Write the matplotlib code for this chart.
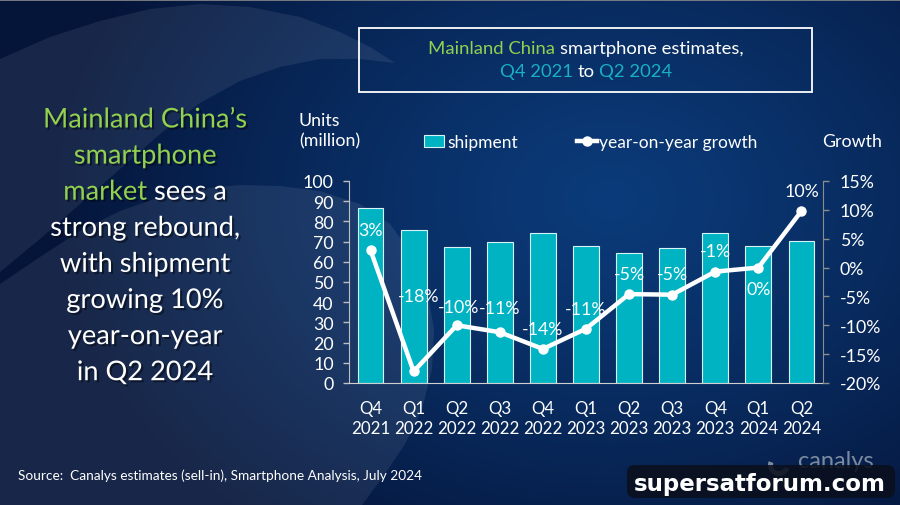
import numpy as np
import matplotlib
matplotlib.use("Agg")
import matplotlib.pyplot as plt
import matplotlib.patheffects as pe
from matplotlib.patches import Rectangle, Polygon, FancyBboxPatch, Wedge

# ---- data -----------------------------------------------------------------
quarters = ["Q4\n2021", "Q1\n2022", "Q2\n2022", "Q3\n2022", "Q4\n2022", "Q1\n2023",
            "Q2\n2023", "Q3\n2023", "Q4\n2023", "Q1\n2024", "Q2\n2024"]
shipment = [86.5, 75.6, 67.2, 69.9, 74.5, 67.7, 64.3, 66.8, 74.1, 67.7, 70.4]
growth = [3.0, -18.0, -10.0, -11.2, -14.1, -10.6, -4.6, -4.7, -0.7, 0.0, 9.8]
units_ticks = [0, 10, 20, 30, 40, 50, 60, 70, 80, 90, 100]
growth_ticks = [-20, -15, -10, -5, 0, 5, 10, 15]

# label nudges (pixels, up is positive)
label_dx = [0, 5, 2, 0, 0, 0, 0, 0, 0, 0, 0]
label_dy = [20, 75, 18, 24, 20, 20, 20, 21, 21, -21, 20]

FONT = "Lato"
GREEN = "#92D050"
TEAL = "#00B3C3"
TEAL_TXT = "#19B0C2"
W, H = 900, 506

plt.rcParams["font.family"] = [FONT, "DejaVu Sans"]

fig = plt.figure(figsize=(W / 100, H / 100), dpi=100)

# ---- background: radial navy gradient + light swooshes --------------------
bg = fig.add_axes([0, 0, 1, 1])
yy, xx = np.mgrid[0:H, 0:W]
d = np.sqrt(((xx - 610) / 560.0) ** 2 + ((yy - 200) / 420.0) ** 2)
d = np.clip(d, 0, 1) ** 1.2
inner = np.array([0x0b, 0x3b, 0x7a]) / 255.0
outer = np.array([0x05, 0x15, 0x3a]) / 255.0
img = inner * (1 - d[..., None]) + outer * d[..., None]
bg.imshow(img, extent=[0, W, H, 0], aspect="auto", zorder=0)
bg.set_xlim(0, W)
bg.set_ylim(H, 0)
bg.axis("off")

crescent = [(0, 60), (50, 38), (100, 22), (150, 10), (200, 5), (250, 8), (300, 18),
            (340, 33), (370, 48), (395, 64), (360, 60), (320, 60), (280, 68),
            (240, 82), (200, 104), (160, 135), (120, 170), (80, 205), (40, 240),
            (0, 273)]
lower = [(0, 285), (40, 258), (80, 232), (120, 212), (160, 198), (200, 190),
         (240, 186), (280, 187), (320, 192), (360, 205), (390, 225), (412, 255),
         (427, 290), (434, 330), (432, 370), (422, 410), (405, 445), (385, 475),
         (362, 506), (0, 506)]
for shape in (crescent, lower):
    bg.add_patch(Polygon(shape, closed=True, facecolor="white", alpha=0.08,
                         edgecolor="none", zorder=1))
bg.plot([0, W], [0.5, 0.5], color="#8a8a8a", lw=1.2, zorder=2)

shadow = [pe.withSimplePatchShadow(offset=(1.5, -1.5), shadow_rgbFace="black",
                                   alpha=0.45)]


def rich_line(xc, y, parts, size, fx=None):
    """Draw a line of coloured words centred at xc (pixel coords)."""
    r = fig.canvas.get_renderer()
    probe = bg.text(0, 0, "x x", fontsize=size)
    probe2 = bg.text(0, 0, "xx", fontsize=size)
    gap = probe.get_window_extent(r).width - probe2.get_window_extent(r).width
    probe.remove()
    probe2.remove()
    texts = []
    for s, c in parts:
        t = bg.text(0, y, s, color=c, fontsize=size, va="center", ha="left",
                    path_effects=fx, zorder=5)
        texts.append(t)
    widths = [t.get_window_extent(r).width for t in texts]
    total = sum(widths) + gap * (len(texts) - 1)
    x = xc - total / 2
    for t, w in zip(texts, widths):
        t.set_x(x)
        x += w + gap


# ---- title box ------------------------------------------------------------
bg.add_patch(Rectangle((359, 29), 453, 64, facecolor="none", edgecolor="white",
                       lw=1.3, zorder=4))
rich_line(586, 49, [("Mainland China", GREEN), ("smartphone estimates,", "white")], 13.3)
rich_line(586, 72, [("Q4 2021", TEAL_TXT), ("to", "white"), ("Q2 2024", TEAL_TXT)], 13.3)

# ---- left headline --------------------------------------------------------
headline = [
    [("Mainland China\u2019s", GREEN)],
    [("smartphone", GREEN)],
    [("market", GREEN), ("sees a", "white")],
    [("strong rebound,", "white")],
    [("with shipment", "white")],
    [("growing 10%", "white")],
    [("year-on-year", "white")],
    [("in Q2 2024", "white")],
]
for i, parts in enumerate(headline):
    rich_line(145, 121 + 36.1 * i, parts, 19.6, fx=shadow)

# ---- chart ----------------------------------------------------------------
ax = fig.add_axes([349 / W, 1 - 384 / H, (823 - 349) / W, (384 - 182) / H])
ax.patch.set_alpha(0)
x = np.arange(len(quarters))
bars = ax.bar(x, shipment, width=0.6, color=TEAL, edgecolor="#d8f3f6",
              linewidth=0.8, zorder=2, label="shipment")
ax.set_xlim(-0.5, len(quarters) - 0.5)
ax.set_ylim(0, 100)
ax.set_yticks(units_ticks)
ax.set_yticklabels([str(v) for v in units_ticks])
ax.set_xticks(x)
ax.set_xticklabels(quarters, linespacing=1.3)
ax.tick_params(axis="x", length=0, pad=12, labelsize=12.2, colors="white")
ax.tick_params(axis="y", length=4, width=1, pad=7, labelsize=12.8,
               colors="#bfbfbf", labelcolor="white")
for side in ("top", "right"):
    ax.spines[side].set_visible(False)
ax.spines["left"].set_color("#bfbfbf")
ax.spines["bottom"].set_color("#d0d0d0")

ax2 = ax.twinx()
ax2.patch.set_alpha(0)
line, = ax2.plot(x, growth, color="white", lw=3.2, marker="o", markersize=6.5,
                 zorder=3, label="year-on-year growth")
ax2.set_ylim(-20, 15)
ax2.set_yticks(growth_ticks)
ax2.set_yticklabels([f"{v}%" for v in growth_ticks])
ax2.tick_params(axis="y", length=4, width=1, pad=8, labelsize=12.8,
                colors="#8c8c8c", labelcolor="white")
for side in ("top", "left", "bottom"):
    ax2.spines[side].set_visible(False)
ax2.spines["right"].set_color("#8c8c8c")

for xi, g, dx, dy in zip(x, growth, label_dx, label_dy):
    ax2.annotate(f"{g:.0f}%", (xi, g), xytext=(dx, dy), textcoords="offset pixels",
                 ha="center", va="center", color="white", fontsize=12.8, zorder=4)

# legend
leg = fig.legend([bars, line], ["shipment", "year-on-year growth"], ncol=2,
                 loc="center", bbox_to_anchor=(591 / W, 1 - 143 / H),
                 frameon=False, fontsize=12.5, handlelength=1.15,
                 handletextpad=0.15, columnspacing=3.4, labelcolor="white")

# axis titles
bg.text(299, 131, "Units\n(million)", color="white", fontsize=12.8, ha="left",
        va="center", linespacing=1.3)
bg.text(822, 142, "Growth", color="white", fontsize=12.8, ha="left", va="center")

# source
bg.text(18, 476, "Source:  Canalys estimates (sell-in), Smartphone Analysis, July 2024",
        color="white", fontsize=9.8, ha="left", va="center")

# canalys logo + watermark
bg.add_patch(Wedge((779, 466), 11, 20, 200, width=5, facecolor="#9aa6b6",
                   alpha=0.8, zorder=5))
bg.text(798, 462, "canalys", color="#9aa6b6", fontsize=17, ha="left", va="center",
        alpha=0.8, zorder=5)
bg.add_patch(FancyBboxPatch((627, 466), 268, 33, boxstyle="round,pad=0,rounding_size=8",
                            facecolor="#0a0f1c", edgecolor="none", alpha=0.88, zorder=6))
bg.text(760, 485, "supersatforum.com", color="white", fontsize=16.5,
        family="DejaVu Sans", weight="bold", ha="center", va="center", zorder=7)

fig.savefig("out.png", dpi=100)
